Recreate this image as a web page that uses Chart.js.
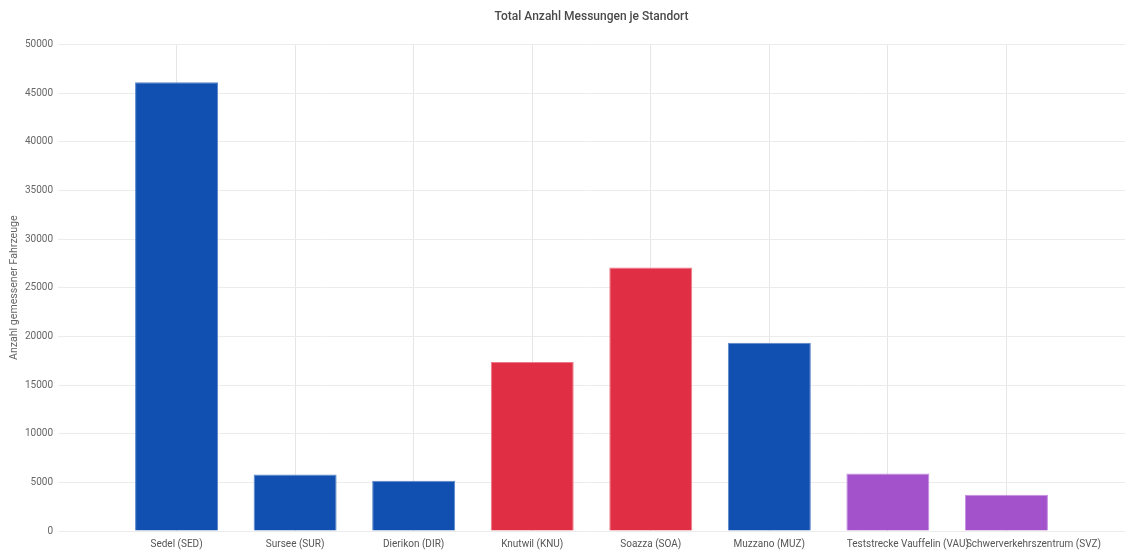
<!DOCTYPE html>
<html>
<head>
<meta charset="utf-8">
<script src="https://cdn.jsdelivr.net/npm/chart.js@4"></script>
<style>
  html, body { margin: 0; padding: 0; background: #fff; }
  #wrap { width: 1125px; height: 551px; }
</style>
</head>
<body>
<div id="wrap"><canvas id="standortChart" width="1125" height="551"></canvas></div>
<script>
// Daten
const standorte = ['Sedel (SED)', 'Sursee (SUR)', 'Dierikon (DIR)', 'Knutwil (KNU)', 'Soazza (SOA)',
    'Muzzano (MUZ)', 'Teststrecke Vauffelin (VAU)', 'Schwerverkehrszentrum (SVZ)'];
const messungen = [46110, 5800, 5160, 17370, 27070, 19350, 5910, 3730];
const farben = ['#1150b0', '#1150b0', '#1150b0', '#e02e45', '#e02e45', '#1150b0', '#a452cc', '#a452cc'];
const randFarben = ['#5b86cc', '#5b86cc', '#5b86cc', '#ec7a88', '#ec7a88', '#5b86cc', '#c48fe0', '#c48fe0'];
const yTicks = [0, 5000, 10000, 15000, 20000, 25000, 30000, 35000, 40000, 45000, 50000];

// leere Kategorie links und rechts, damit die Balken auf den Gitterlinien sitzen
const labels = [''].concat(standorte, ['']);
const werte = [null].concat(messungen, [null]);

Chart.defaults.font.family = 'Roboto, "Noto Sans", sans-serif';
Chart.defaults.color = '#666';

// die letzten zwei Beschriftungen sind im Original etwas nach rechts verschoben
const labelVersatz = { 7: 20, 8: 27 };
const labelShiftPlugin = {
    id: 'labelShift',
    beforeDraw: function (chart) {
        var xs = chart.scales.x;
        var items = xs.getLabelItems(chart.chartArea);
        if (items._verschoben) return;
        items.forEach(function (it, i) {
            if (labelVersatz[i]) it.options.translation[0] += labelVersatz[i];
        });
        items._verschoben = true;
    }
};

document.addEventListener("DOMContentLoaded", function () {
    var ctx = document.getElementById('standortChart').getContext('2d');
    new Chart(ctx, {
        type: 'bar',
        data: {
            labels: labels,
            datasets: [{
                label: 'Anzahl',
                data: werte,
                backgroundColor: [null].concat(farben, [null]),
                borderColor: [null].concat(randFarben, [null]),
                borderWidth: 1,
                categoryPercentage: 1,
                barPercentage: 0.7
            }]
        },
        plugins: [labelShiftPlugin],
        options: {
            responsive: false,
            animation: false,
            layout: { padding: { top: 6, right: 0, bottom: 0, left: 0 } },
            plugins: {
                legend: { display: false },
                tooltip: { enabled: false },
                title: {
                    display: true,
                    fullSize: false,
                    text: 'Total Anzahl Messungen je Standort',
                    color: '#4a4a4a',
                    font: { size: 12, weight: '500' },
                    padding: { top: 4, bottom: 20 }
                }
            },
            scales: {
                x: {
                    offset: false,
                    border: { display: false },
                    afterFit: function (axis) {
                        axis.height = 20;
                        // kein Extra-Rand links/rechts
                        axis.paddingLeft = 0;
                        axis.paddingRight = 0;
                    },
                    grid: {
                        offset: false,
                        drawTicks: false,
                        color: function (c) {
                            return (c.index === 0 || c.index === labels.length - 1) ? 'rgba(0,0,0,0)' : '#e6e6e6';
                        }
                    },
                    ticks: {
                        autoSkip: false,
                        maxRotation: 0,
                        minRotation: 0,
                        padding: 7,
                        color: '#555',
                        font: { size: 10 }
                    }
                },
                y: {
                    min: 0,
                    max: 50000,
                    border: { display: false },
                    afterFit: function (axis) { axis.width = 58; },
                    grid: { drawTicks: false, color: '#ececec' },
                    afterBuildTicks: function (axis) {
                        axis.ticks = yTicks.map(function (v) { return { value: v }; });
                    },
                    ticks: {
                        padding: 5,
                        color: '#666',
                        font: { size: 10 },
                        callback: function (v) { return String(v); }
                    },
                    title: {
                        display: true,
                        text: 'Anzahl gemessener Fahrzeuge',
                        color: '#666',
                        font: { size: 10.6 },
                        padding: { top: 8, bottom: 0 }
                    }
                }
            }
        }
    });
});
</script>
</body>
</html>
